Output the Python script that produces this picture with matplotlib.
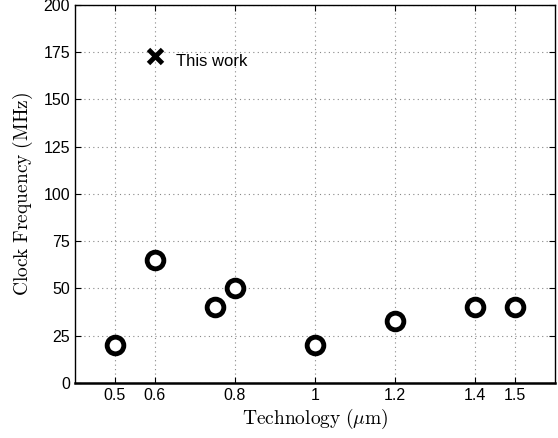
import matplotlib
matplotlib.use('Agg')
import matplotlib.pyplot as plt

# Data
tech = [0.5, 0.6, 0.75, 0.8, 1.0, 1.2, 1.4, 1.5]
freq = [20, 65, 40, 50, 20, 33, 40, 40]
this_tech = [0.6]
this_freq = [173]
xticks = [0.5, 0.6, 0.8, 1, 1.2, 1.4, 1.5]
xtick_labels = ['0.5', '0.6', '0.8', '1', '1.2', '1.4', '1.5']
yticks = [0, 25, 50, 75, 100, 125, 150, 175, 200]

plt.rcParams['font.family'] = 'Liberation Sans'
plt.rcParams['mathtext.fontset'] = 'cm'

fig = plt.figure(figsize=(5.58, 4.38), dpi=100)
ax = fig.add_axes([0.1344, 0.1256, 0.8602, 0.863])

ax.plot(tech, freq, linestyle='none', marker='o', markersize=12,
        markerfacecolor='white', markeredgecolor='black', markeredgewidth=3.5)
ax.plot(this_tech, this_freq, linestyle='none', marker='x', markersize=10,
        color='black', markeredgewidth=3.5)
ax.text(0.653, 170, 'This work', fontsize=12, va='center', ha='left')

ax.set_xlim(0.4, 1.6)
ax.set_ylim(0, 200)
ax.set_xticks(xticks)
ax.set_xticklabels(xtick_labels)
ax.set_yticks(yticks)
ax.tick_params(direction='in', labelsize=11.5, top=True, right=True, length=4)
ax.grid(True, linestyle=(0, (1, 3)), color='#888888', linewidth=0.8)
for s in ax.spines.values():
    s.set_linewidth(1)
ax.spines['bottom'].set_linewidth(1.8)

ax.set_xlabel(r'$\mathrm{Technology\ (\mu m)}$', fontsize=14, labelpad=3)
ax.set_ylabel(r'$\mathrm{Clock\ Frequency\ (MHz)}$', fontsize=14, labelpad=6)

fig.savefig('out.png', dpi=100)
